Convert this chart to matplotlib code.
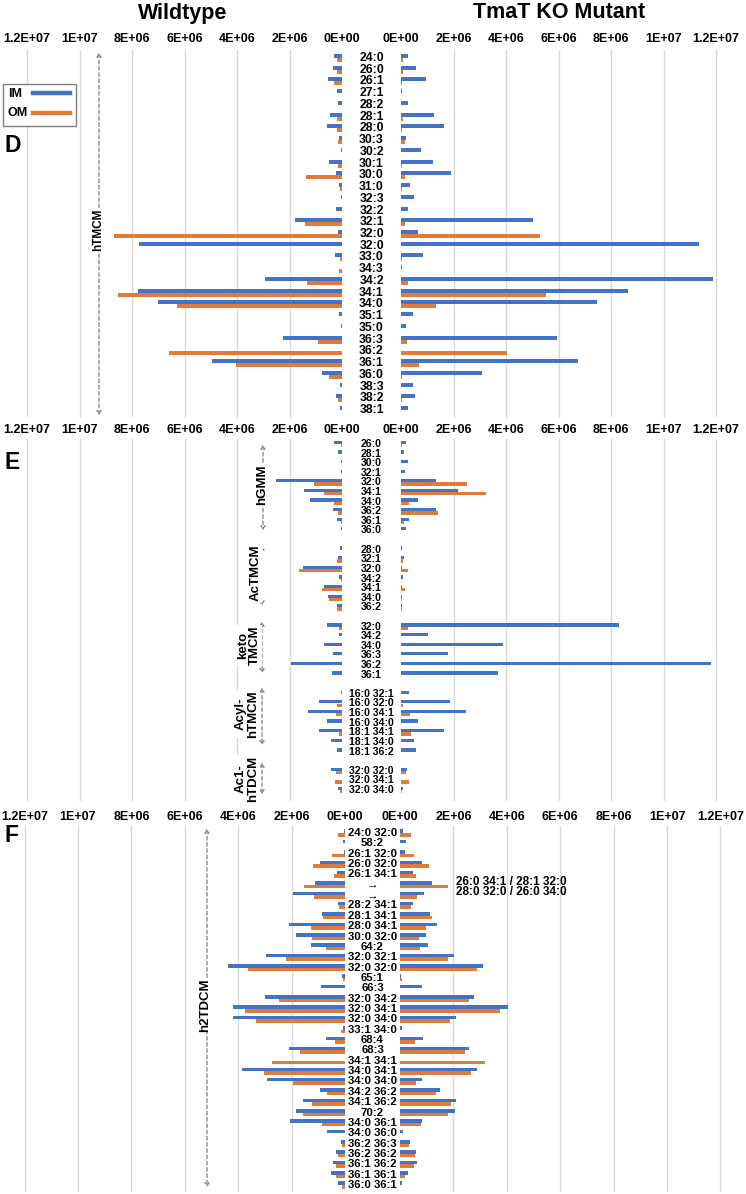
import matplotlib
matplotlib.use("Agg")
import matplotlib.pyplot as plt
from matplotlib.lines import Line2D
from matplotlib.patches import Rectangle, FancyArrowPatch
import matplotlib.transforms as mtransforms
import numpy as np

plt.rcParams['font.family'] = ['Liberation Sans', 'DejaVu Sans']
plt.rcParams['font.weight'] = 'bold'

W, H = 746, 1194
BLUE = '#4472C4'
ORANGE = '#E07B39'
GRID = '#D9D9D9'
UNIT = 1e6  # values below are in millions

tick_values = [0, 2e6, 4e6, 6e6, 8e6, 1e7, 1.2e7]
tick_labels = ['0E+00', '2E+06', '4E+06', '6E+06', '8E+06', '1E+07', '1.2E+07']

# ---------------- Panel D ----------------
d_labels = ['24:0', '26:0', '26:1', '27:1', '28:2', '28:1', '28:0', '30:3', '30:2', '30:1',
            '30:0', '31:0', '32:3', '32:2', '32:1', '32:0', '32:0', '33:0', '34:3', '34:2',
            '34:1', '34:0', '35:1', '35:0', '36:3', '36:2', '36:1', '36:0', '38:3', '38:2', '38:1']
d_wt_im = [0.29, 0.33, 0.53, 0.18, 0.14, 0.46, 0.56, 0.10, 0.04, 0.49, 0.23, 0.13, 0.04, 0.24, 1.79,
           0.17, 7.73, 0.26, 0.0, 2.92, 7.77, 7.0, 0.13, 0.04, 2.26, 0.0, 4.96, 0.78, 0.08, 0.23, 0.06]
d_wt_om = [0.18, 0.18, 0.29, 0, 0, 0.2, 0.18, 0.15, 0, 0.17, 1.38, 0.08, 0, 0, 1.42,
           8.7, 0, 0.08, 0.12, 1.35, 8.54, 6.27, 0, 0, 0.9, 6.58, 4.03, 0.49, 0, 0.14, 0]
d_ko_im = [0.28, 0.59, 0.95, 0.05, 0.27, 1.24, 1.62, 0.2, 0.78, 1.23, 1.91, 0.35, 0.49, 0.26, 5.03,
           0.64, 11.35, 0.85, 0.03, 11.9, 8.65, 7.47, 0.45, 0.18, 5.94, 0, 6.74, 3.09, 0.45, 0.55, 0.26]
d_ko_om = [0.08, 0.08, 0.05, 0, 0, 0.08, 0.05, 0.15, 0, 0.05, 0.15, 0.03, 0, 0, 0.15,
           5.28, 0, 0.03, 0, 0.28, 5.52, 1.35, 0, 0, 0.23, 4.05, 0.68, 0.05, 0, 0.04, 0]

# ---------------- Panel E ('' = spacer between groups) ----------------
e_labels = ['26:0', '28:1', '30:0', '32:1', '32:0', '34:1', '34:0', '36:2', '36:1', '36:0', '',
            '28:0', '32:1', '32:0', '34:2', '34:1', '34:0', '36:2', '',
            '32:0', '34:2', '34:0', '36:3', '36:2', '36:1', '',
            '16:0 32:1', '16:0 32:0', '16:0 34:1', '16:0 34:0', '18:1 34:1', '18:1 34:0', '18:1 36:2', '',
            '32:0 32:0', '32:0 34:1', '32:0 34:0']
e_wt_im = [0.3, 0.16, 0.05, 0.05, 2.52, 1.45, 1.23, 0.34, 0.18, 0.04, 0,
           0.08, 0.14, 1.5, 0.1, 0.67, 0.54, 0.19, 0,
           0.59, 0.12, 0.67, 0.36, 1.94, 0.4, 0,
           0.04, 0.86, 1.28, 0.58, 0.88, 0.41, 0.19, 0,
           0.42, 0.0, 0.17]
e_wt_om = [0.05, 0, 0, 0, 1.05, 0.68, 0.29, 0.16, 0.05, 0, 0,
           0, 0.19, 1.64, 0.05, 0.77, 0.49, 0.2, 0,
           0.12, 0, 0, 0, 0, 0, 0,
           0, 0.19, 0.23, 0, 0.12, 0, 0, 0,
           0.22, 0.28, 0.09]
e_ko_im = [0.18, 0.11, 0.27, 0.15, 1.33, 2.18, 0.64, 1.33, 0.31, 0.18, 0,
           0.05, 0.1, 0.05, 0.06, 0.04, 0.04, 0.04, 0,
           8.3, 1.01, 3.87, 1.79, 11.8, 3.69, 0,
           0.29, 1.88, 2.49, 0.63, 1.62, 0.5, 0.59, 0,
           0.24, 0, 0.08]
e_ko_om = [0.04, 0, 0, 0, 2.53, 3.22, 0.31, 1.42, 0.13, 0, 0,
           0, 0.08, 0.28, 0, 0.15, 0.03, 0.05, 0,
           0.28, 0, 0, 0, 0, 0, 0,
           0, 0.08, 0.35, 0, 0.38, 0, 0, 0,
           0.2, 0.29, 0.03]

# ---------------- Panel F ----------------
f_labels = ['24:0 32:0', '58:2', '26:1 32:0', '26:0 32:0', '26:1 34:1', '\u2192', '\u2192',
            '28:2 34:1', '28:1 34:1', '28:0 34:1', '30:0 32:0', '64:2', '32:0 32:1', '32:0 32:0',
            '65:1', '66:3', '32:0 34:2', '32:0 34:1', '32:0 34:0', '33:1 34:0', '68:4', '68:3',
            '34:1 34:1', '34:0 34:1', '34:0 34:0', '34:2 36:2', '34:1 36:2', '70:2', '34:0 36:1',
            '34:0 36:0', '36:2 36:3', '36:2 36:2', '36:1 36:2', '36:1 36:1', '36:0 36:1']
f_wt_im = [0.05, 0.08, 0.05, 0.93, 0.31, 1.14, 1.93, 0.28, 0.88, 2.11, 1.85, 1.26, 2.96, 4.4, 0.13,
           0.89, 3.0, 4.19, 4.2, 0.08, 0.7, 2.09, 0.0, 3.84, 2.94, 0.93, 1.58, 1.85, 2.06, 0.69,
           0.16, 0.34, 0.44, 0.51, 0.26]
f_wt_om = [0.25, 0, 0.49, 1.2, 0.41, 1.54, 1.16, 0.21, 0.83, 1.29, 1.24, 0.73, 2.21, 3.63, 0.06,
           0, 2.46, 3.74, 3.33, 0.16, 0.36, 1.7, 2.73, 3.04, 1.96, 0.69, 1.25, 1.56, 0.88, 0,
           0.1, 0.26, 0.35, 0.34, 0.11]
f_ko_im = [0.1, 0.21, 0.2, 0.81, 0.5, 1.19, 0.89, 0.49, 1.14, 1.38, 0.96, 1.05, 2.04, 3.09, 0.04,
           0.84, 2.76, 4.04, 2.11, 0.08, 0.85, 2.59, 0.0, 2.88, 0.81, 1.51, 2.09, 2.05, 0.84, 0.11,
           0.38, 0.6, 0.64, 0.31, 0.06]
f_ko_om = [0.4, 0, 0.53, 1.08, 0.6, 1.78, 0.64, 0.4, 1.19, 0.99, 0.73, 0.74, 1.8, 2.9, 0.08,
           0, 2.58, 3.74, 1.89, 0.0, 0.58, 2.43, 3.19, 2.65, 0.61, 1.36, 1.9, 1.78, 0.79, 0,
           0.34, 0.55, 0.53, 0.19, 0]
f_note_lines = ['26:0 34:1 / 28:1 32:0', '28:0 32:0 / 26:0 34:0']

fig = plt.figure(figsize=(W / 100, H / 100), dpi=100)


def fx(x):
    return x / W


def fy(y):
    return 1 - y / H


def add_ax(x0, x1, y0, y1):
    return fig.add_axes([fx(x0), fy(y1), (x1 - x0) / W, (y1 - y0) / H])


BAR_H = 0.34


def panel(labels, wt_im, wt_om, ko_im, ko_om, y_first, y_last, top, bottom,
          lz, rz, scale, tick_y, label_size):
    n = len(labels)
    slot = (y_last - y_first) / (n - 1)
    ylim = (n - 1 + (bottom - y_last) / slot, -(y_first - top) / slot)
    xmax = 12.25 * UNIT
    axes = []
    for side in ('L', 'R'):
        if side == 'L':
            ax = add_ax(lz - 12.25 * scale, lz, top, bottom)
            im, om = wt_im, wt_om
        else:
            ax = add_ax(rz, rz + 12.25 * scale, top, bottom)
            im, om = ko_im, ko_om
        idx = np.arange(n)
        ax.barh(idx - BAR_H / 2, np.array(im) * UNIT, height=BAR_H, color=BLUE, zorder=3)
        ax.barh(idx + BAR_H / 2, np.array(om) * UNIT, height=BAR_H, color=ORANGE, zorder=3)
        if side == 'L':
            ax.set_xlim(xmax, 0)
        else:
            ax.set_xlim(0, xmax)
        ax.set_ylim(*ylim)
        ax.set_yticks([])
        ax.xaxis.tick_top()
        ax.set_xticks(tick_values)
        ax.set_xticklabels(tick_labels, fontsize=9, fontweight='bold')
        pad_px = top - tick_y - 4.5
        ax.tick_params(axis='x', length=0, pad=pad_px * 0.72)
        ax.grid(axis='x', color=GRID, linewidth=1.0, zorder=0)
        ax.get_xgridlines()[0].set_visible(False)
        for s in ax.spines.values():
            s.set_visible(False)
        ax.patch.set_alpha(0)
        axes.append(ax)
    axL = axes[0]
    trans = mtransforms.blended_transform_factory(fig.transFigure, axL.transData)
    mid = fx((lz + rz) / 2)
    for i, lab in enumerate(labels):
        if lab:
            axL.text(mid, i, lab, transform=trans, ha='center', va='center',
                     fontsize=label_size, fontweight='bold', clip_on=False)
    return axes


panel(d_labels, d_wt_im, d_wt_om, d_ko_im, d_ko_om, 58, 410, 50, 418, 342, 401, 26.25, 41, 8.8)
panel(e_labels, e_wt_im, e_wt_om, e_ko_im, e_ko_om, 444, 790, 439, 801, 342, 401, 26.25, 432, 7.6)
panel(f_labels, f_wt_im, f_wt_om, f_ko_im, f_ko_om, 833, 1185, 826, 1192, 345, 400, 26.7, 818, 8.2)

# titles
fig.text(fx(183), fy(13), 'Wildtype', ha='center', va='center', fontsize=15.5, fontweight='bold')
fig.text(fx(559), fy(13), 'TmaT KO Mutant', ha='center', va='center', fontsize=15.5, fontweight='bold')

# panel letters
for letter, yy in (('D', 146), ('E', 463), ('F', 836)):
    fig.text(fx(4), fy(yy), letter, ha='left', va='center', fontsize=16.5, fontweight='bold')

# legend
fig.add_artist(Rectangle((fx(3), fy(126)), 73 / W, 42 / H, transform=fig.transFigure,
                         facecolor='white', edgecolor='#7F7F7F', linewidth=1.0))
fig.text(fx(8), fy(94), 'IM', ha='left', va='center', fontsize=9, fontweight='bold')
fig.text(fx(8), fy(113), 'OM', ha='left', va='center', fontsize=9, fontweight='bold')
fig.add_artist(Line2D([fx(33), fx(70)], [fy(93), fy(93)], color=BLUE, linewidth=3.2,
                      transform=fig.transFigure))
fig.add_artist(Line2D([fx(33), fx(70)], [fy(113), fy(113)], color=ORANGE, linewidth=3.2,
                      transform=fig.transFigure))


def group_arrow(x, y0, y1, text_x, text_y, text, size):
    arr = FancyArrowPatch((fx(x), fy(y0)), (fx(x), fy(y1)), transform=fig.transFigure,
                          arrowstyle='<->,head_length=2.5,head_width=1.5', linestyle=(0, (3, 2)),
                          color='#7F7F7F', linewidth=0.9, mutation_scale=1)
    fig.add_artist(arr)
    fig.text(fx(text_x), fy(text_y), text, rotation=90, ha='center', va='center',
             fontsize=size, fontweight='bold', linespacing=1.0,
             bbox=dict(facecolor='white', edgecolor='none', pad=0.5))


group_arrow(99, 50, 418, 98, 230, 'hTMCM', 8.5)
group_arrow(263, 442, 533, 262, 485, 'hGMM', 9.5)
group_arrow(262, 543, 608, 256, 573, 'AcTMCM', 9.5)
group_arrow(262, 619, 676, 249, 645, 'keto\nTMCM', 9.5)
group_arrow(262, 685, 748, 247, 714, 'Acyl-\nhTMCM', 9.5)
group_arrow(262, 760, 797, 247, 779, 'Ac1-\nhTDCM', 9.5)
group_arrow(207, 826, 1190, 205, 1005, 'h2TDCM', 9.5)

# side notes for the arrow rows in panel F
fig.text(fx(456), fy(882), f_note_lines[0], ha='left', va='center', fontsize=8.5, fontweight='bold')
fig.text(fx(456), fy(892), f_note_lines[1], ha='left', va='center', fontsize=8.5, fontweight='bold')

fig.savefig('out.png', dpi=100)
